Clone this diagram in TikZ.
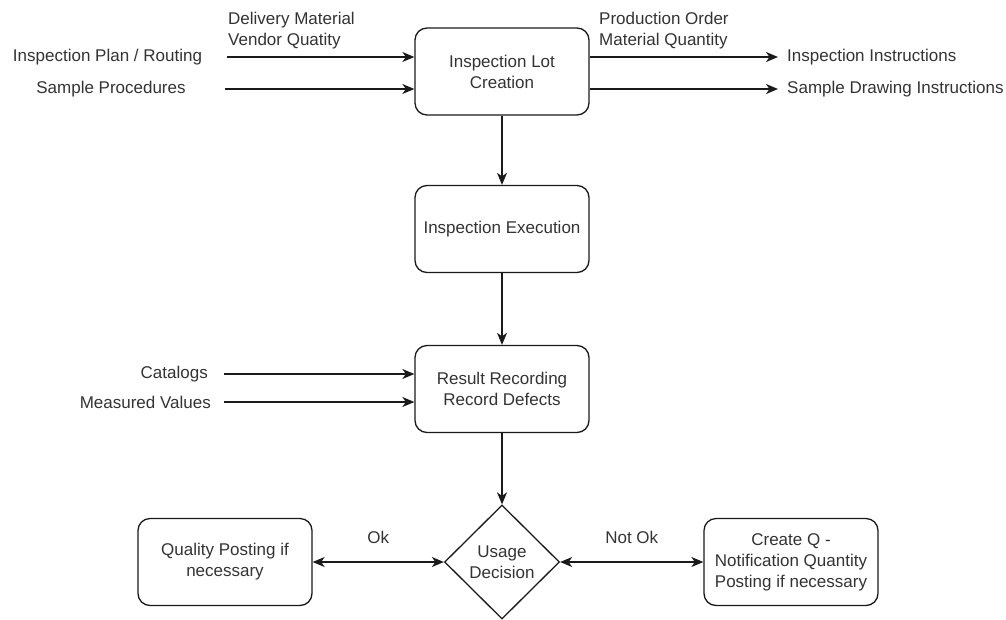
\documentclass[tikz,border=0pt]{standalone}
\usepackage{fontspec}
\setmainfont{Liberation Sans}
\usetikzlibrary{arrows.meta,shapes.geometric}
\definecolor{ink}{HTML}{1A1A1A}
\definecolor{txt}{HTML}{333333}
\tikzset{
  every node/.style={font=\fontsize{17}{21}\selectfont, text=txt},
  procbox/.style={draw=ink, line width=1.3pt, rounded corners=12pt,
    minimum width=174pt, minimum height=87pt, align=center, inner sep=2pt},
  decision/.style={draw=ink, line width=1.3pt, diamond, aspect=1,
    minimum width=115pt, minimum height=114pt, inner sep=0pt, align=center},
  lbl/.style={inner sep=0pt, align=left},
  tip/.tip={Stealth[length=12pt,width=10pt,inset=3.5pt]},
  flow/.style={draw=ink, line width=1.3pt, -tip},
  twoway/.style={draw=ink, line width=1.3pt, tip-tip}
}
\begin{document}
\begin{tikzpicture}[x=1pt,y=-1pt]
\useasboundingbox (0,0) rectangle (1006,619);

% process steps
\node[procbox] (lot)  at (502,71.5) {Inspection Lot\\Creation};
\node[procbox] (exec) at (502,229)  {Inspection Execution};
\node[procbox] (rec)  at (502,389)  {Result Recording\\Record Defects};
\node[decision] (ud)  at (502,562)  {Usage\\Decision};
\node[procbox] (qp)   at (225,562)  {Quality Posting if\\necessary};
\node[procbox] (cq)   at (791,562)  {Create Q -\\Notification Quantity\\Posting if necessary};

% inputs to lot creation
\node[lbl, anchor=west] (dm) at (228,30.5) {Delivery Material\\Vendor Quatity};
\node[lbl] (ipr) at (107.5,57) {Inspection Plan / Routing};
\node[lbl] (spr) at (111,89)   {Sample Procedures};
\coordinate (in1) at (227,57);
\coordinate (in2) at (225,89);
\draw[flow] (in1) -- (in1 -| lot.west);
\draw[flow] (in2) -- (in2 -| lot.west);

% outputs of lot creation
\node[lbl, anchor=west] (po) at (599,30.5) {Production Order\\Material Quantity};
\node[lbl, anchor=west] (ii) at (787,57) {Inspection Instructions};
\node[lbl, anchor=west] (sd) at (787,89) {Sample Drawing Instructions};
\draw[flow, shorten >=9pt] (ii.west -| lot.east) -- (ii.west);
\draw[flow, shorten >=9pt] (sd.west -| lot.east) -- (sd.west);

% inputs to result recording
\node[lbl, anchor=east] (cat) at (208,374) {Catalogs};
\node[lbl, anchor=east] (mv)  at (211,402) {Measured Values};
\coordinate (in3) at (224,374);
\coordinate (in4) at (224,402);
\draw[flow] (in3) -- (in3 -| rec.west);
\draw[flow] (in4) -- (in4 -| rec.west);

% main flow
\draw[flow] (lot) -- (exec);
\draw[flow] (exec) -- (rec);
\draw[flow] (rec) -- (ud);

% decision outcomes
\draw[twoway] (ud.west) -- node[above=18pt, inner sep=0pt] (ok) {Ok} (qp.east);
\draw[twoway] (ud.east) -- node[above=18pt, inner sep=0pt] (nok) {Not Ok} (cq.west);
\end{tikzpicture}
\end{document}
